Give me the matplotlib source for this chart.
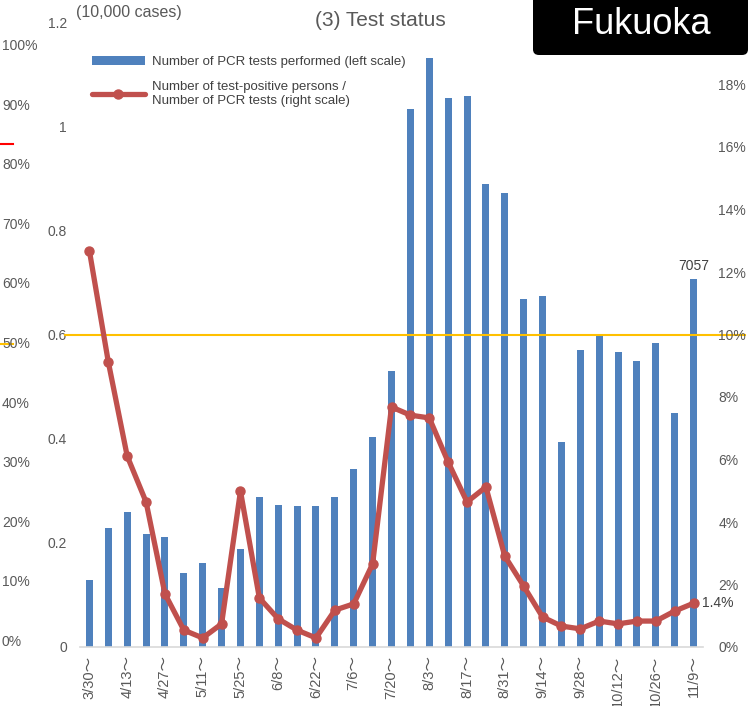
import matplotlib.pyplot as plt
from matplotlib.patches import FancyBboxPatch
import numpy as np

plt.rcParams['font.family'] = ['Liberation Sans', 'Noto Sans CJK JP', 'DejaVu Sans']

# weekly buckets, Monday start
weeks = ["3/30", "4/6", "4/13", "4/20", "4/27", "5/4", "5/11", "5/18", "5/25",
         "6/1", "6/8", "6/15", "6/22", "6/29", "7/6", "7/13", "7/20", "7/27",
         "8/3", "8/10", "8/17", "8/24", "8/31", "9/7", "9/14", "9/21", "9/28",
         "10/5", "10/12", "10/19", "10/26", "11/2", "11/9"]

# PCR tests performed (10,000 cases)
pcr_tests = [0.129, 0.228, 0.259, 0.217, 0.211, 0.142, 0.161, 0.113, 0.188,
             0.288, 0.273, 0.271, 0.271, 0.288, 0.342, 0.403, 0.530, 1.033,
             1.131, 1.054, 1.058, 0.889, 0.872, 0.668, 0.674, 0.394, 0.570,
             0.601, 0.566, 0.549, 0.584, 0.449, 0.7057]

# positives / tests (%)
positive_rate = [12.67, 9.12, 6.11, 4.64, 1.70, 0.54, 0.29, 0.74, 4.99,
                 1.57, 0.90, 0.54, 0.29, 1.18, 1.38, 2.66, 7.68, 7.42,
                 7.33, 5.92, 4.64, 5.12, 2.91, 1.95, 0.96, 0.67, 0.58,
                 0.83, 0.74, 0.83, 0.83, 1.15, 1.4]

left_ticks = [0, 0.2, 0.4, 0.6, 0.8, 1.0, 1.2]
left_labels = ["0", "0.2", "0.4", "0.6", "0.8", "1", "1.2"]
right_ticks = [0, 2, 4, 6, 8, 10, 12, 14, 16, 18]
outer_ticks = [0, 10, 20, 30, 40, 50, 60, 70, 80, 90, 100]

BLUE = '#4F81BD'
RED = '#C0504D'
GOLD = '#FFC000'
GREY = '#595959'

W, H = 749, 706


def fx(x):
    return x / W


def fy(y):
    return 1 - y / H


fig = plt.figure(figsize=(W / 100, H / 100), dpi=100)

# stray percentage scale on the far left
ax3 = fig.add_axes([0, fy(642), 40 / W, (642 - 46) / H])
ax3.set_xlim(0, 1)
ax3.set_ylim(0, 100)
ax3.axis('off')
for v in outer_ticks:
    ax3.text(0.05, v, f"{v}%", ha='left', va='center', fontsize=10, color=GREY)
ax3.plot([0, 0.33], [83.5, 83.5], color='#FF0000', lw=1.5, clip_on=False)
ax3.plot([0, 0.33], [50, 50], color=GOLD, lw=1.5, clip_on=False)

ax = fig.add_axes([fx(80), fy(647), (703 - 80) / W, (647 - 22) / H])
x = np.arange(len(weeks))
bars = ax.bar(x, pcr_tests, width=0.37, color=BLUE, zorder=2,
              label="Number of PCR tests performed (left scale)")
ax.set_xlim(-0.5, len(weeks) - 0.5)
ax.set_ylim(0, 1.2)
ax.set_yticks(left_ticks)
ax.set_yticklabels(left_labels)
ax.tick_params(axis='y', length=0, pad=9.5, labelsize=10, labelcolor=GREY)
ax.set_xticks(x[::2])
ax.set_xticklabels([w + "～" for w in weeks[::2]], rotation=90, va='top', ha='center')
ax.tick_params(axis='x', length=0, pad=6, labelsize=10.5, labelcolor=GREY)
for s in ['top', 'right', 'left']:
    ax.spines[s].set_visible(False)
ax.spines['bottom'].set_color('#D9D9D9')
ax.spines['bottom'].set_linewidth(1.2)
ax.axhline(0.6, xmin=(65 - 80) / 623, xmax=(745 - 80) / 623,
           color=GOLD, lw=1.5, clip_on=False, zorder=3)
ax.text(x[-1], pcr_tests[-1] + 0.012, f"{round(pcr_tests[-1] * 10000)}",
        ha='center', va='bottom', fontsize=10, color='#404040')

ax2 = ax.twinx()
line, = ax2.plot(x, positive_rate, color=RED, lw=3.8, marker='o', ms=6.5,
                 zorder=4, solid_capstyle='round',
                 label="Number of test-positive persons /\nNumber of PCR tests (right scale)")
ax2.set_ylim(0, 20)
ax2.set_yticks(right_ticks)
ax2.set_yticklabels([f"{t}%" for t in right_ticks])
ax2.tick_params(axis='y', length=0, pad=11, labelsize=10, labelcolor=GREY)
for s in ['top', 'right', 'left', 'bottom']:
    ax2.spines[s].set_visible(False)
ax2.text(x[-1] + 0.45, positive_rate[-1], f"{positive_rate[-1]}%",
         ha='left', va='center', fontsize=10, color='#404040')

leg = ax2.legend(handles=[bars, line], loc='upper left',
                 bbox_to_anchor=(fx(92), fy(56)), bbox_transform=fig.transFigure,
                 frameon=False, fontsize=9.5, handlelength=4.0, handletextpad=0.55,
                 labelspacing=0.97, borderpad=0, borderaxespad=0, numpoints=1)
for t in leg.get_texts():
    t.set_color('#404040')

fig.text(fx(380), fy(21), "(3) Test status", ha='center', va='center',
         fontsize=15, color=GREY)
fig.text(fx(76), fy(13), "(10,000 cases)", ha='left', va='center',
         fontsize=11.5, color=GREY)

box = FancyBboxPatch((fx(533), fy(55)), fx(748) - fx(533), 70 / H,
                     boxstyle='round,pad=0,rounding_size=0.008',
                     transform=fig.transFigure, facecolor='black',
                     edgecolor='none', zorder=10)
fig.add_artist(box)
fig.text(fx(641), fy(24), "Fukuoka", ha='center', va='center', fontsize=26,
         color='white', zorder=11)

fig.savefig("out.png", dpi=100)
